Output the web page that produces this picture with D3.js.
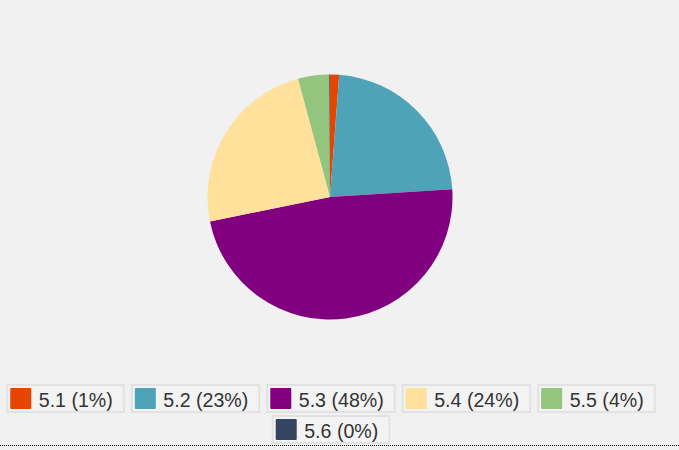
<!DOCTYPE html>
<html>
<head>
<meta charset="utf-8">
<script src="https://cdn.jsdelivr.net/npm/d3@7"></script>
<style>
  html, body { margin: 0; padding: 0; background: #f1f1f1; }
  svg { display: block; }
  .legend-label { font-family: 'Liberation Sans', Arial, sans-serif; font-size: 19.6px; fill: #333; }
</style>
</head>
<body>
<div id="chart-area"></div>
<script>
const width = 679;
const height = 450;

// data (percent shares)
const categories = ['5.1', '5.2', '5.3', '5.4', '5.5', '5.6'];
const values = [1.2, 22.8, 47.8, 24.0, 4.1, 0.1];
const colors = ['#e64400', '#4fa3b8', '#800080', '#ffe19b', '#94c57e', '#34435e'];

const data = categories.map((c, i) => ({ name: c, value: values[i] }));
const total = d3.sum(values);

const svg = d3
  .select('#chart-area')
  .append('svg')
  .attr('width', width)
  .attr('height', height);

const color = d3.scaleOrdinal().domain(categories).range(colors);

// pie
const cx = 330;
const cy = 197;
const radius = 122.5;

const pie = d3.pie().sort(null).value((d) => d.value);
const arc = d3.arc().innerRadius(0).outerRadius(radius);

svg
  .append('g')
  .attr('transform', `translate(${cx}, ${cy})`)
  .selectAll('path')
  .data(pie(data))
  .enter()
  .append('path')
  .attr('d', arc)
  .attr('fill', (d) => color(d.data.name));

// legend - boxes wrapped into centred rows
const boxH = 27;
const sq = 21;
const gap = 8;
const rowGap = 4;
const maxRow = 670;
const legendTop = 385;

const legend = svg.append('g');
const items = legend
  .selectAll('.legend-item')
  .data(data)
  .enter()
  .append('g')
  .attr('class', 'legend-item');

items
  .append('text')
  .attr('class', 'legend-label')
  .attr('x', 31.5)
  .attr('y', 21.5)
  .text((d) => `${d.name} (${Math.round((d.value / total) * 100)}%)`);

const widths = [];
items.each(function () {
  const w = d3.select(this).select('text').node().getComputedTextLength();
  widths.push(31.5 + w + 11);
});

items
  .insert('rect', 'text')
  .attr('x', 0)
  .attr('y', 0)
  .attr('width', (d, i) => widths[i])
  .attr('height', boxH)
  .attr('fill', '#f3f3f3')
  .attr('stroke', '#e2e2e2')
  .attr('stroke-width', 2);

items
  .insert('rect', 'text')
  .attr('x', 3)
  .attr('y', 3)
  .attr('width', sq)
  .attr('height', sq)
  .attr('rx', 1)
  .attr('fill', (d) => color(d.name));

// break into rows
const rows = [];
let cur = [];
let curW = 0;
widths.forEach((w, i) => {
  const add = cur.length ? gap + w : w;
  if (curW + add > maxRow && cur.length) {
    rows.push({ idx: cur, w: curW });
    cur = [i];
    curW = w;
  } else {
    cur.push(i);
    curW += add;
  }
});
rows.push({ idx: cur, w: curW });

rows.forEach((r, ri) => {
  let x = cx + 1 - r.w / 2;
  r.idx.forEach((i) => {
    const y = legendTop + ri * (boxH + rowGap);
    items.filter((d, j) => j === i).attr('transform', `translate(${x}, ${y})`);
    x += widths[i] + gap;
  });
});

// dotted bottom rule
svg
  .append('line')
  .attr('x1', 0)
  .attr('x2', width)
  .attr('y1', 445.5)
  .attr('y2', 445.5)
  .attr('stroke', '#000')
  .attr('stroke-width', 1)
  .attr('stroke-dasharray', '1,1');
</script>
</body>
</html>
